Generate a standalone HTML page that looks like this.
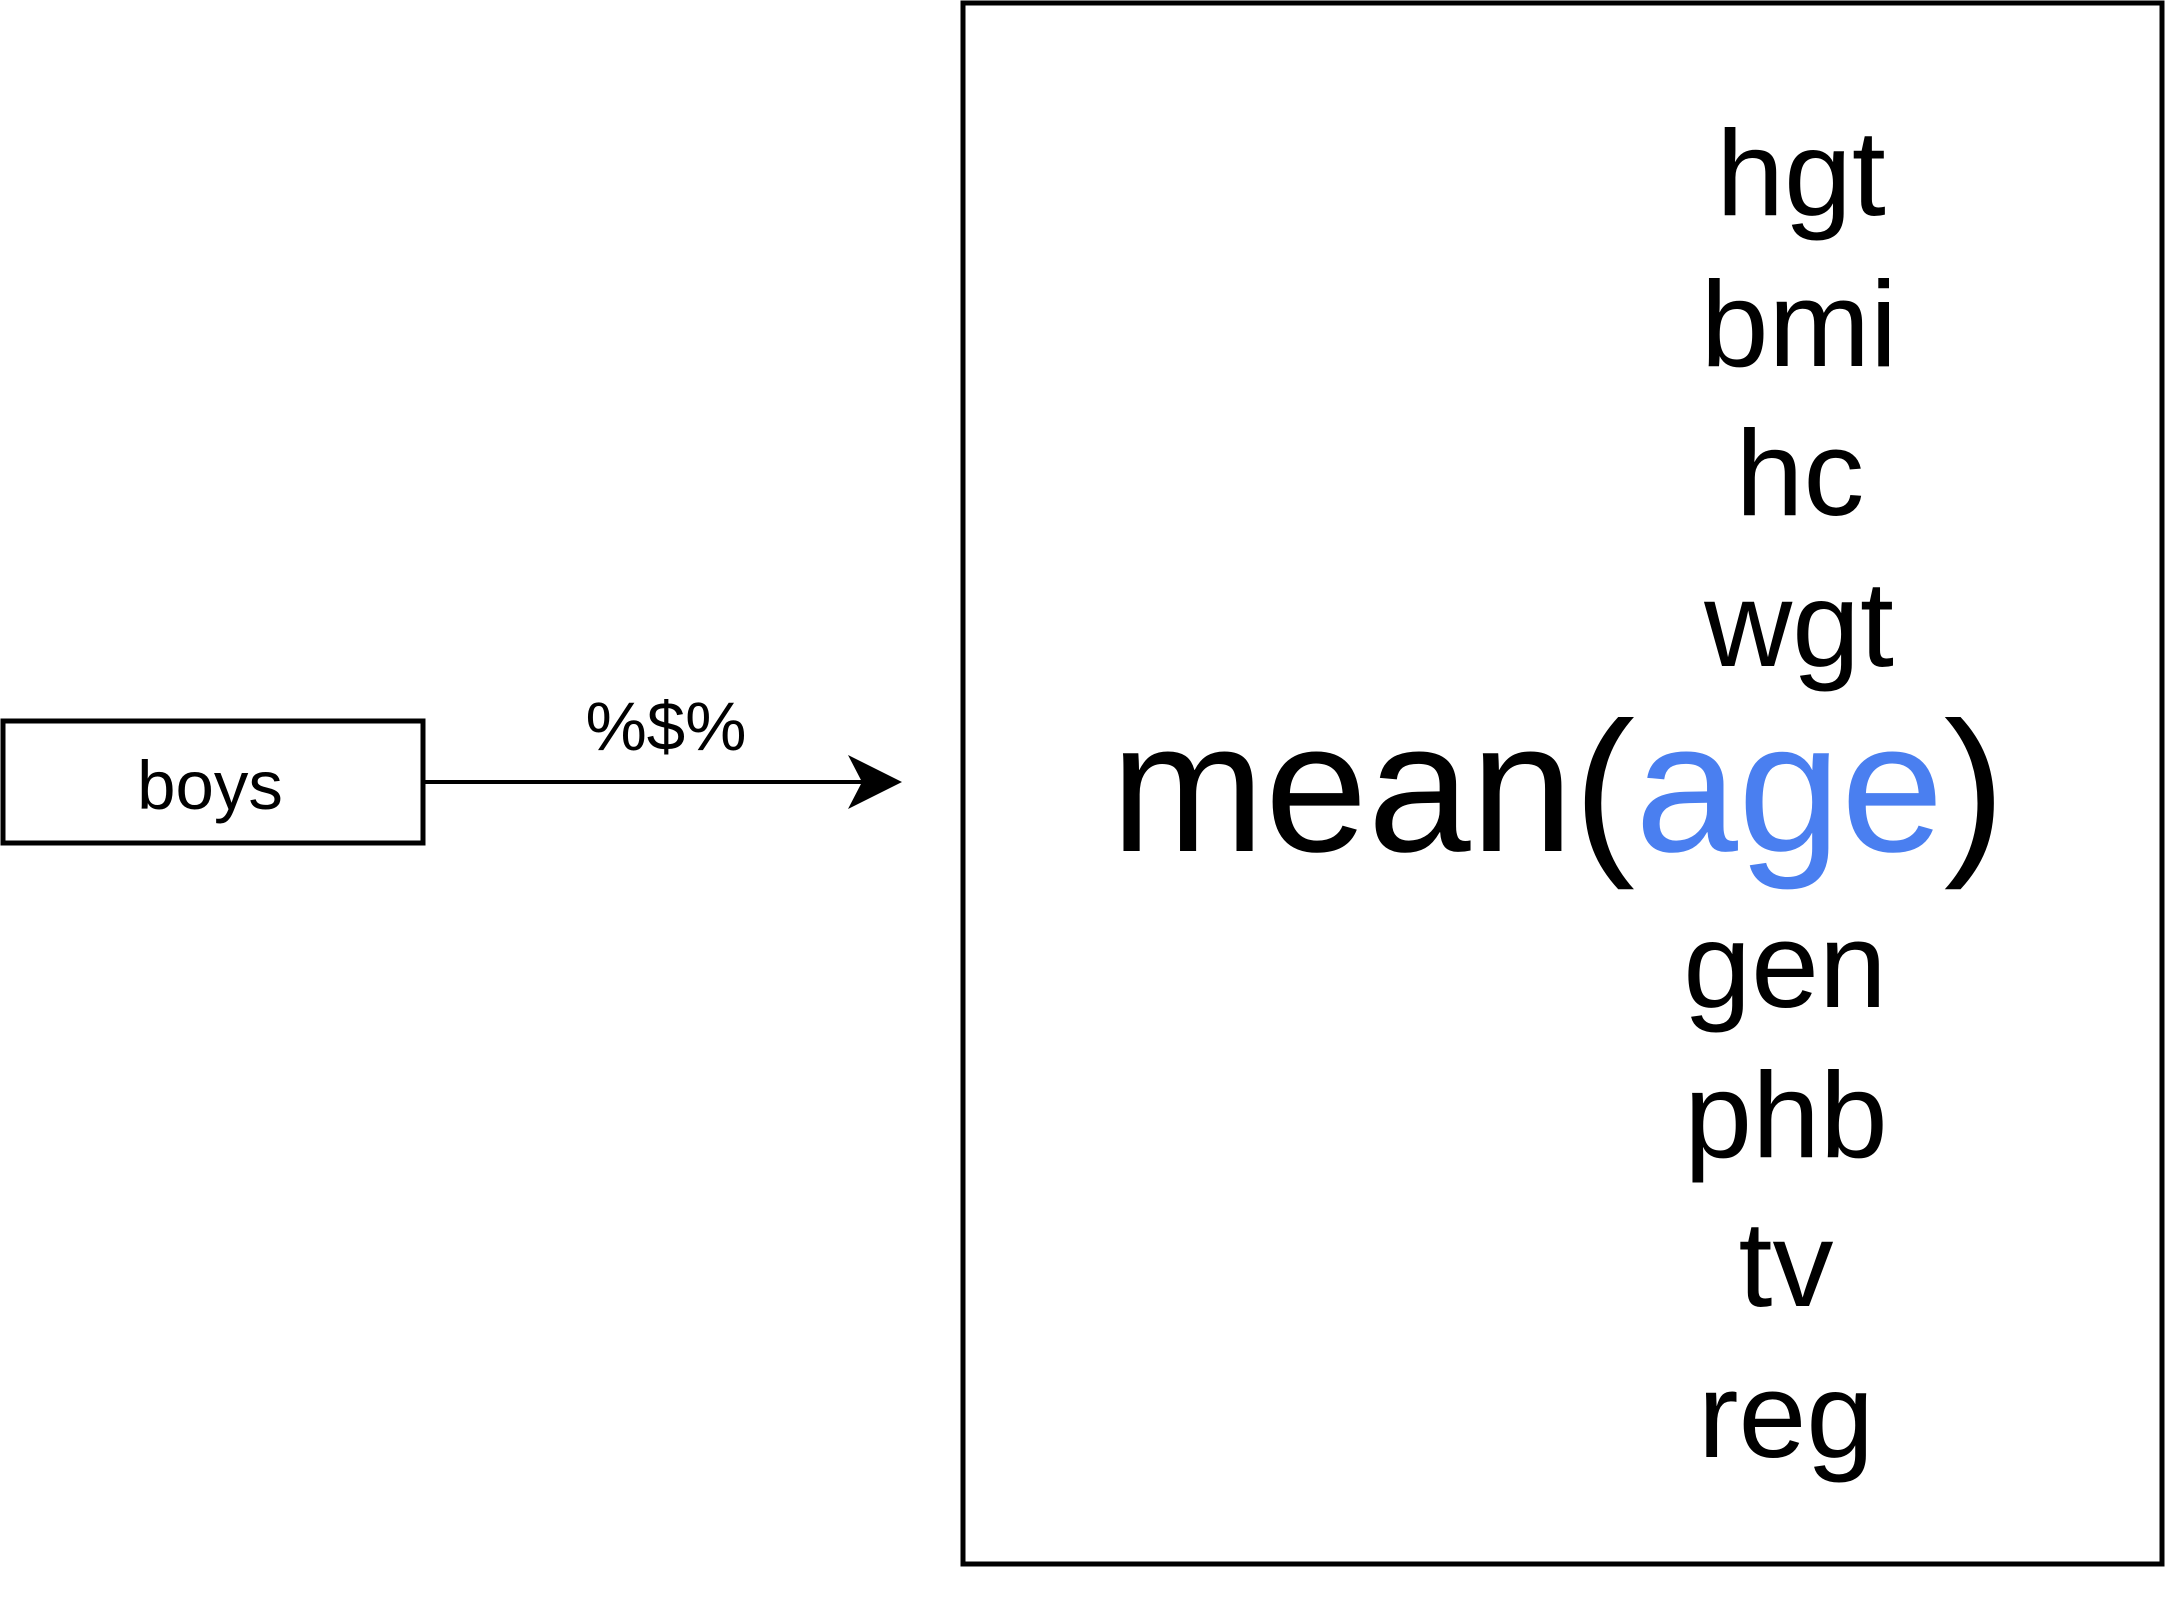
<!DOCTYPE html>
<html><head><style>html,body{margin:0;padding:0;background:#fff}</style></head>
<body>
<svg width="2166" height="1616" viewBox="0 0 2166 1616" xmlns="http://www.w3.org/2000/svg" font-family="Liberation Sans, Arial, sans-serif">
<rect x="963" y="3" width="1199" height="1561" fill="none" stroke="#000" stroke-width="5"/>
<rect x="3" y="721" width="420" height="122" fill="none" stroke="#000" stroke-width="5"/>
<line x1="423" y1="782" x2="870" y2="782" stroke="#000" stroke-width="4"/>
<polygon points="902,782 848,755 862,782 848,809" fill="#000"/>
<text x="210" y="809" font-size="69" text-anchor="middle">boys</text>
<text x="666" y="750" font-size="69" text-anchor="middle">%$%</text>
<g font-size="122" text-anchor="middle">
<text x="1801" y="215">hgt</text>
<text x="1799" y="366">bmi</text>
<text x="1800" y="515">hc</text>
<text x="1799" y="666">wgt</text>
<text x="1785" y="1007">gen</text>
<text x="1786" y="1157">phb</text>
<text x="1786" y="1306">tv</text>
<text x="1786" y="1457">reg</text>
</g>
<text x="1558" y="851" font-size="185" text-anchor="middle">mean(<tspan fill="#4a7ff0">age</tspan>)</text>
</svg>
</body></html>
